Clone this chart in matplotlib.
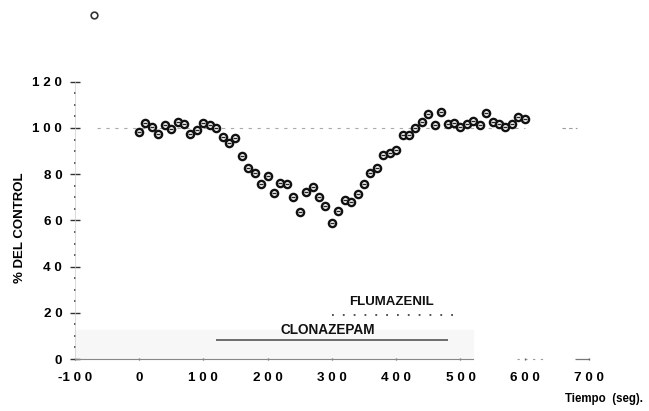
import matplotlib
matplotlib.use('Agg')
import matplotlib.pyplot as plt

# Tiempo (seg) y % del control
tiempo = [0, 10, 20, 30, 40, 50, 60, 70, 80, 90,
          100, 110, 120, 130, 140, 150, 160, 170, 180, 190,
          200, 210, 220, 230, 240, 250, 260, 270, 280, 290,
          300, 310, 320, 330, 340, 350, 360, 370, 380, 390,
          400, 410, 420, 430, 440, 450, 460, 470, 480, 490,
          500, 510, 520, 530, 540, 550, 560, 570, 580, 590,
          600]
control = [98.1, 102.0, 100.3, 97.4, 101.3, 99.4, 102.5, 101.6, 97.5, 99.0,
           102.3, 101.5, 99.9, 96.0, 93.4, 95.6, 88.0, 82.6, 80.6, 75.8,
           79.2, 71.7, 76.1, 75.6, 70.3, 63.5, 72.4, 74.3, 70.3, 66.4,
           58.7, 64.2, 68.8, 67.8, 71.3, 75.6, 80.4, 82.7, 88.2, 89.2,
           90.6, 97.0, 97.0, 99.9, 102.7, 106.1, 101.3, 107.1, 101.7, 102.3,
           100.6, 101.7, 103.2, 101.3, 106.5, 102.7, 101.6, 100.6, 101.6, 104.9,
           104.0]

# punto suelto arriba a la izquierda
suelto_t = [-70]
suelto_v = [149]

# barras de los farmacos: inicio, fin, nivel
clonazepam = [120, 480, 8.2]
flumazenil = [300, 490, 19.0]

yticks = [0, 20, 40, 60, 80, 100, 120]
ylabels = ['0', '2 0', '4 0', '6 0', '8 0', '1 0 0', '1 2 0']
xticks = [-100, 0, 100, 200, 300, 400, 500, 600, 700]
xlabels = ['-1 0 0', '0', '1 0 0', '2 0 0', '3 0 0', '4 0 0', '5 0 0', '6 0 0', '7 0 0']

plt.rcParams['font.family'] = ['Liberation Sans', 'DejaVu Sans']
plt.rcParams['font.weight'] = 'bold'

fig = plt.figure(figsize=(6.49, 4.11), dpi=100)
ax = fig.add_axes([0, 0, 1, 1])
ax.set_xlim(-216.2, 793.2)
ax.set_ylim(-22.5, 155.4)

# ejes
for s in ['top', 'right']:
    ax.spines[s].set_visible(False)
ax.spines['left'].set_position(('data', -100))
ax.spines['bottom'].set_position(('data', 0))
ax.spines['left'].set_bounds(0, 120)
ax.spines['bottom'].set_bounds(-100, 520)
ax.spines['left'].set_color('#cccccc')
ax.spines['left'].set_linewidth(0.5)
ax.spines['bottom'].set_color('#888888')
ax.spines['bottom'].set_linewidth(0.8)

ax.set_yticks(yticks, ylabels)
ax.set_yticks(range(0, 121, 5), minor=True)
ax.set_xticks(xticks, xlabels)
ax.tick_params(axis='y', which='major', direction='inout', length=6.5, width=1,
               color='#333333', pad=5.8, labelsize=9.7)
ax.tick_params(axis='y', which='minor', direction='inout', length=1.5, width=1.2,
               color='#444444')
ax.tick_params(axis='x', which='major', direction='inout', length=2, width=1,
               color='#666666', pad=8.3, labelsize=9.7)

# sombra gris del escaneo
ax.fill_between([-100, 520], 0, 12.5, color='#f7f7f7', zorder=0)

# linea de referencia 100 %
ax.hlines(100, -65, 600, color='#aaaaaa', lw=0.8, linestyles=(0, (3, 5)), zorder=1)
ax.hlines(100, 658, 681, color='#999999', lw=0.8, linestyles=(0, (3, 3)), zorder=1)
ax.hlines(0, 588, 628, color='#999999', lw=0.8, linestyles=(0, (2, 5)), zorder=1)
ax.hlines(0, 678, 700, color='#777777', lw=0.9, zorder=1)

# puntos
ax.plot(tiempo, control, 'o', ms=5.2, mfc='white', mec='#111111', mew=1.7, zorder=3)
ax.plot(tiempo, control, '_', ms=2.5, mec='#222222', mew=1.0, zorder=4)
ax.plot(suelto_t, suelto_v, 'o', ms=4.8, mfc='white', mec='#333333', mew=1.2, zorder=3)

# farmacos
ax.hlines(clonazepam[2], clonazepam[0], clonazepam[1], color='#555555', lw=1.2, zorder=2)
ax.text(294, 12.5, 'CLONAZEPAM', ha='center', va='center', fontsize=9.8, color='#111111')
ax.hlines(flumazenil[2], flumazenil[0], flumazenil[1], color='#444444', lw=1.3,
          linestyles=(0, (1, 5)), zorder=2)
ax.text(392, 24.8, 'FLUMAZENIL', ha='center', va='center', fontsize=9.5, color='#111111')

# etiquetas
ax.text(0.031, 0.445, '% DEL CONTROL', rotation=90, ha='center', va='center',
        fontsize=9.5, transform=ax.transAxes)
ax.text(0.93, 0.03, 'Tiempo  (seg).', ha='center', va='center', fontsize=8.3,
        transform=ax.transAxes)

fig.savefig('out.png', dpi=100)
